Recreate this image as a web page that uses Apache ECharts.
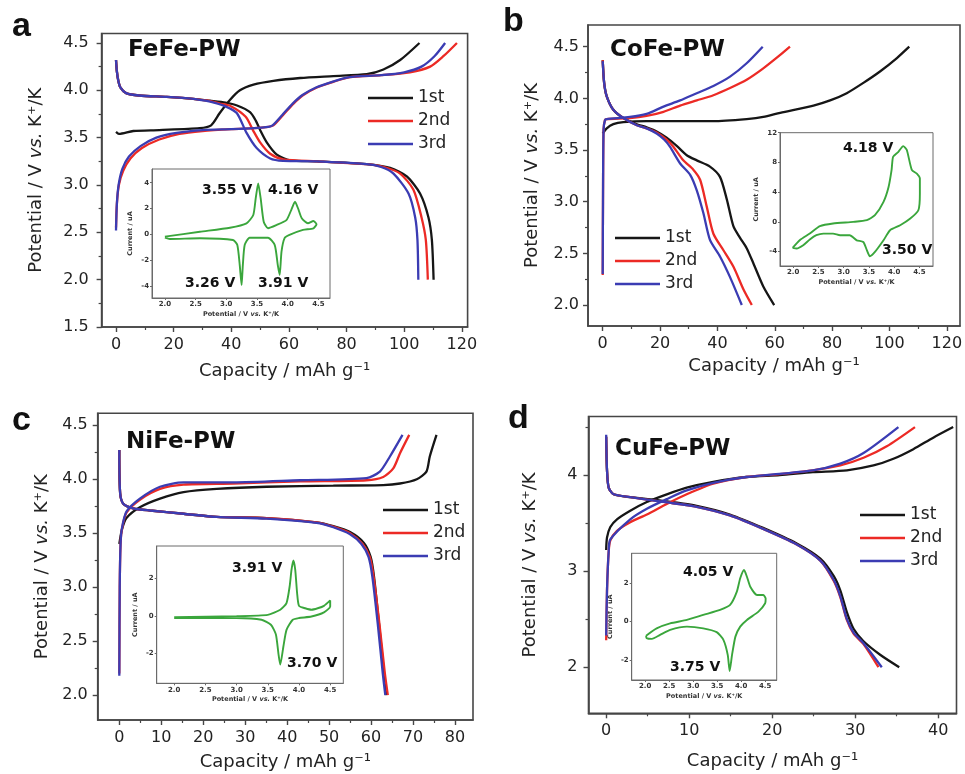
<!DOCTYPE html>
<html>
<head>
<meta charset="utf-8">
<script src="https://cdn.jsdelivr.net/npm/echarts@6/dist/echarts.min.js"></script>
<style>html,body{margin:0;padding:0;background:#fff;}#c{width:965px;height:774px;}</style>
</head>
<body>
<div id="c"></div>
<script>
// ---------------- DATA ----------------
const cycleNames = ['1st', '2nd', '3rd'];
const sampleNames = ['FeFe-PW', 'CoFe-PW', 'NiFe-PW', 'CuFe-PW'];
const panelLetters = ['a', 'b', 'c', 'd'];

// Panel a : FeFe-PW  [capacity mAh/g, potential V]
const aCharge1 = [[0,3.56],[1,3.54],[6,3.57],[15,3.58],[29,3.6],[33,3.63],[36,3.76],[39.6,3.9],[43,4.0],[47.7,4.06],[54.6,4.1],[63.9,4.13],[75.4,4.15],[87,4.17],[92.8,4.22],[98.6,4.32],[105.3,4.5]];
const aCharge2 = [[0,2.55],[0.3,2.8],[1,3.0],[2.5,3.15],[5,3.28],[9,3.39],[15,3.48],[22,3.54],[30,3.57],[40,3.59],[48,3.6],[52,3.61],[54.6,3.63],[58,3.74],[61.6,3.86],[65,3.95],[69.7,4.03],[75.4,4.09],[81.2,4.14],[92,4.16],[102,4.19],[109,4.25],[113.6,4.36],[118.3,4.5]];
const aCharge3 = [[0,2.52],[0.3,2.8],[0.9,3.0],[2.2,3.17],[4.5,3.3],[8.5,3.41],[14,3.5],[21,3.55],[30,3.58],[40,3.59],[48,3.6],[52,3.61],[54.3,3.63],[57.7,3.74],[61.3,3.86],[64.7,3.95],[69.4,4.03],[75,4.09],[81,4.14],[92,4.16],[100,4.19],[106,4.25],[110.5,4.36],[114.2,4.5]];
const aDis1 = [[0,4.32],[0.3,4.2],[0.8,4.1],[1.5,4.03],[3.5,3.97],[8,3.945],[17.6,3.93],[26.8,3.91],[32.6,3.89],[38,3.87],[42,3.84],[46.5,3.77],[48.5,3.68],[50,3.58],[52.3,3.45],[55.8,3.32],[60.4,3.26],[69.7,3.25],[87,3.22],[95.1,3.18],[100.9,3.09],[105.5,2.91],[108.4,2.66],[109.6,2.42],[110.2,2.0]];
const aDis2 = [[0,4.32],[0.3,4.2],[0.8,4.1],[1.5,4.03],[3.5,3.97],[8,3.945],[17.6,3.93],[26.8,3.91],[32,3.89],[36,3.86],[40,3.83],[45,3.72],[47.5,3.58],[50,3.45],[53.5,3.33],[58,3.27],[69.7,3.25],[87,3.22],[93,3.19],[98.6,3.12],[103.2,2.95],[106,2.66],[107.5,2.42],[108.2,2.0]];
const aDis3 = [[0,4.32],[0.3,4.2],[0.8,4.1],[1.5,4.03],[3.5,3.97],[8,3.945],[17.6,3.93],[26.8,3.91],[31,3.89],[34,3.87],[38,3.83],[41.9,3.76],[45.3,3.55],[48.8,3.39],[53.5,3.28],[58,3.255],[69.7,3.25],[87,3.22],[92,3.19],[96.3,3.12],[101.5,2.91],[103.8,2.66],[104.6,2.42],[104.9,2.0]];
// inset a : CV  [potential V, current uA]
const aCV = [[2.0,-0.18],[2.57,0.2],[3.06,0.51],[3.33,0.85],[3.44,1.5],[3.48,2.8],[3.52,3.95],[3.56,2.8],[3.61,0.98],[3.68,0.47],[3.82,0.72],[3.98,1.1],[4.06,1.9],[4.12,2.53],[4.17,2.0],[4.23,1.24],[4.33,0.86],[4.42,1.03],[4.47,0.78],[4.42,0.47],[4.25,0.34],[4.03,-0.05],[3.95,-0.3],[3.9,-1.34],[3.87,-3.15],[3.84,-2.4],[3.79,-0.83],[3.68,-0.26],[3.38,-0.26],[3.3,-0.83],[3.27,-2.38],[3.25,-3.93],[3.22,-2.4],[3.18,-0.83],[3.11,-0.44],[2.57,-0.3],[2.08,-0.36],[2.0,-0.26]];

// Panel b : CoFe-PW
const bCharge1 = [[0,3.66],[1.4,3.71],[3.7,3.75],[7.2,3.77],[15.3,3.78],[38.6,3.78],[50.2,3.8],[56,3.82],[61.9,3.86],[73.5,3.93],[79.3,3.98],[85.1,4.05],[90.9,4.15],[96.7,4.26],[102.6,4.39],[106.9,4.5]];
const bCharge2 = [[0,2.29],[0.1,3.0],[0.3,3.7],[0.8,3.79],[1.4,3.8],[9.5,3.81],[15.3,3.83],[21.2,3.87],[27,3.93],[32.8,3.98],[38.6,4.03],[44.4,4.1],[50.2,4.18],[56,4.29],[61.9,4.42],[65.3,4.5]];
const bCharge3 = [[0,2.3],[0.1,3.0],[0.3,3.7],[0.8,3.79],[1.4,3.8],[9.5,3.82],[15.3,3.85],[21.2,3.92],[27,3.98],[32.8,4.05],[38.6,4.12],[44.4,4.21],[50.2,4.34],[55.8,4.5]];
const bDis1 = [[0,4.37],[0.5,4.15],[1.4,4.02],[3.7,3.89],[7.2,3.81],[11.9,3.75],[15.3,3.72],[18.8,3.68],[22.3,3.62],[25.8,3.54],[29.3,3.45],[32.8,3.4],[37.4,3.34],[40.9,3.24],[43.3,3.02],[45.6,2.76],[47.9,2.65],[50.2,2.55],[52.6,2.4],[56,2.18],[59.8,2.0]];
const bDis2 = [[0,4.37],[0.5,4.15],[1.4,4.02],[3.7,3.89],[7.2,3.81],[11.9,3.74],[15.3,3.71],[18.8,3.67],[22.3,3.6],[24.7,3.53],[28.1,3.4],[31.6,3.31],[34,3.21],[36.3,2.95],[38.6,2.69],[42.1,2.53],[45.6,2.37],[49.1,2.15],[52,2.0]];
const bDis3 = [[0,4.36],[0.5,4.15],[1.4,4.02],[3.7,3.89],[7.2,3.81],[11.9,3.74],[15.3,3.71],[18.8,3.66],[21.5,3.6],[23.5,3.53],[27,3.37],[30.5,3.26],[32.8,3.11],[35.1,2.89],[37.4,2.63],[40.9,2.47],[44.4,2.27],[48.5,2.0]];
const bCV = [[1.99,-3.5],[2.13,-2.47],[2.33,-1.57],[2.53,-0.58],[2.79,-0.22],[3.19,0],[3.46,0.23],[3.62,0.9],[3.79,2.7],[3.89,4.7],[3.95,7.0],[3.98,8.76],[4.08,9.4],[4.18,10.2],[4.25,9.7],[4.35,7.0],[4.45,6.5],[4.51,5.85],[4.51,3.8],[4.48,1.57],[4.32,0.45],[4.12,-0.45],[3.92,-1.12],[3.79,-2.47],[3.62,-4.04],[3.52,-4.62],[3.46,-3.8],[3.39,-2.7],[3.26,-2.47],[3.12,-1.79],[2.93,-1.79],[2.79,-1.57],[2.6,-1.57],[2.46,-1.79],[2.33,-2.37],[2.2,-3.14],[2.07,-3.58],[1.99,-3.5]];

// Panel c : NiFe-PW
const cCharge1 = [[0,3.4],[0.6,3.53],[1.7,3.64],[4.9,3.74],[9.7,3.82],[15.3,3.88],[23.2,3.91],[35.1,3.93],[51,3.94],[62.9,3.945],[66.9,3.96],[70.9,4.0],[73.2,4.07],[74,4.21],[75.6,4.41]];
const cCharge2 = [[0,2.2],[0.1,3.0],[0.3,3.4],[0.6,3.53],[1.7,3.69],[4.9,3.81],[9.7,3.91],[15.3,3.95],[27.2,3.96],[43.1,3.98],[58.9,3.99],[62.9,4.02],[65.3,4.1],[66.9,4.24],[69.1,4.41]];
const cCharge3 = [[0,2.18],[0.1,3.0],[0.3,3.4],[0.6,3.54],[1.7,3.7],[4.9,3.82],[9.7,3.93],[15.3,3.97],[27.2,3.97],[43.1,3.99],[58.9,4.01],[62.1,4.07],[64.5,4.21],[67.5,4.41]];
const cDis1 = [[0,4.27],[0.2,3.87],[1,3.77],[3.3,3.73],[7.3,3.71],[15.3,3.68],[23.2,3.65],[35.1,3.64],[47,3.6],[51,3.565],[55,3.51],[58.3,3.41],[59.9,3.28],[60.7,3.1],[61.9,2.66],[63.1,2.2],[63.7,2.0]];
const cDis2 = [[0,4.27],[0.2,3.87],[1,3.77],[3.3,3.73],[7.3,3.71],[15.3,3.68],[23.2,3.65],[35.1,3.64],[47,3.6],[51,3.56],[55,3.5],[58,3.4],[59.7,3.28],[60.6,3.1],[62,2.66],[63.3,2.2],[64,2.0]];
const cDis3 = [[0,4.27],[0.2,3.87],[1,3.77],[3.3,3.73],[7.3,3.71],[15.3,3.68],[23.2,3.65],[35.1,3.635],[47,3.595],[51,3.555],[55,3.49],[57.7,3.4],[59.4,3.28],[60.3,3.1],[61.6,2.66],[62.8,2.2],[63.4,2.0]];
const cCV = [[2.0,-0.07],[3.0,-0.02],[3.5,0.05],[3.7,0.32],[3.8,0.68],[3.85,1.56],[3.88,2.45],[3.91,2.95],[3.94,2.45],[3.97,1.2],[4.0,0.53],[4.1,0.4],[4.2,0.32],[4.3,0.4],[4.4,0.53],[4.5,0.82],[4.5,0.5],[4.4,0.18],[4.2,-0.04],[4.0,-0.12],[3.9,-0.21],[3.8,-0.75],[3.75,-1.64],[3.7,-2.6],[3.67,-2.0],[3.63,-1.0],[3.55,-0.48],[3.4,-0.21],[3.0,-0.12],[2.0,-0.12]];

// Panel d : CuFe-PW
const dCharge1 = [[0,3.22],[0.1,3.35],[0.5,3.46],[1.3,3.54],[2.9,3.63],[4.9,3.72],[7.3,3.8],[9.7,3.87],[12.9,3.93],[16.9,3.98],[20.9,4.0],[24.9,4.03],[29,4.05],[32.2,4.1],[34.6,4.17],[37,4.27],[39.4,4.39],[41.8,4.5]];
const dCharge2 = [[0,2.28],[0.1,2.8],[0.3,3.2],[0.5,3.32],[1.3,3.42],[2.9,3.51],[4.9,3.59],[7.3,3.7],[9.7,3.8],[12.9,3.91],[16.9,3.98],[20.9,4.01],[24.9,4.05],[28.2,4.1],[31,4.18],[33.8,4.3],[37.2,4.5]];
const dCharge3 = [[0,2.33],[0.1,2.8],[0.3,3.2],[0.5,3.33],[2.9,3.54],[4.9,3.65],[7.3,3.75],[9.7,3.84],[12.9,3.92],[16.9,3.98],[24.9,4.05],[28.2,4.12],[31,4.23],[35.2,4.5]];
const dDis1 = [[0,4.4],[0.1,4.05],[0.3,3.87],[0.9,3.8],[2.9,3.77],[6.9,3.73],[10.9,3.68],[14.9,3.59],[18.9,3.45],[22.9,3.29],[25.8,3.13],[27.4,2.95],[28.2,2.8],[29,2.57],[29.8,2.4],[31,2.27],[33,2.13],[35.3,2.0]];
const dDis2 = [[0,4.4],[0.1,4.05],[0.3,3.87],[0.9,3.8],[2.9,3.77],[6.9,3.72],[10.9,3.67],[14.9,3.58],[18.9,3.44],[22.9,3.28],[25.8,3.11],[27.4,2.9],[28.2,2.73],[29,2.49],[29.8,2.35],[31,2.24],[32.8,2.0]];
const dDis3 = [[0,4.42],[0.1,4.05],[0.3,3.87],[0.9,3.8],[2.9,3.77],[6.9,3.72],[10.9,3.67],[14.9,3.58],[18.9,3.44],[22.9,3.28],[25.8,3.11],[27.4,2.91],[28.2,2.74],[29,2.5],[29.8,2.36],[31,2.25],[33.2,2.0]];
const dCV = [[2.02,-0.73],[2.24,-0.35],[2.52,-0.09],[2.87,0.09],[3.21,0.35],[3.56,0.61],[3.77,0.87],[3.91,1.56],[3.98,2.26],[4.06,2.69],[4.12,2.34],[4.19,1.82],[4.33,1.39],[4.46,1.39],[4.51,1.2],[4.5,0.96],[4.36,0.52],[4.12,0.09],[3.98,-0.26],[3.88,-0.78],[3.81,-1.73],[3.76,-2.57],[3.72,-1.73],[3.63,-0.95],[3.49,-0.55],[3.21,-0.35],[2.87,-0.26],[2.52,-0.43],[2.31,-0.69],[2.14,-0.9],[2.03,-0.86],[2.02,-0.73]];

// tick labels
const xTicksA = [0,20,40,60,80,100,120], xMinorA = [10,30,50,70,90,110];
const yTicksA = [1.5,2.0,2.5,3.0,3.5,4.0,4.5], yMinorA = [1.75,2.25,2.75,3.25,3.75,4.25];
const xTicksB = [0,20,40,60,80,100,120], xMinorB = [10,30,50,70,90,110];
const yTicksB = [2.0,2.5,3.0,3.5,4.0,4.5], yMinorB = [2.25,2.75,3.25,3.75,4.25];
const xTicksC = [0,10,20,30,40,50,60,70,80], xMinorC = [5,15,25,35,45,55,65,75];
const yTicksC = [2.0,2.5,3.0,3.5,4.0,4.5], yMinorC = [2.25,2.75,3.25,3.75,4.25];
const xTicksD = [0,10,20,30,40], xMinorD = [5,15,25,35];
const yTicksD = [2,3,4], yMinorD = [2.5,3.5,4.5];
const insetXTicks = [2.0,2.5,3.0,3.5,4.0,4.5];
const insetYTicksA = [-4,-2,0,2,4], insetYTicksB = [-4,0,4,8,12], insetYTicksC = [-2,0,2], insetYTicksD = [-2,0,2];
const peakLabels = [['3.55 V','4.16 V','3.26 V','3.91 V'], ['4.18 V','3.50 V'], ['3.91 V','3.70 V'], ['4.05 V','3.75 V']];

// ---------------- STYLE / LAYOUT ----------------
const F = 'DejaVu Sans';
const COLORS = ['#161616', '#ec2a25', '#3b3cb3'];
const GREEN = '#3aa63c';
const AX = '#464646';
const TXT = '#232323';
const grids = [], xAxes = [], yAxes = [], series = [];
const yName = '{n|Potential / V }{i|vs.}{n| K⁺/K}';
const xName = 'Capacity / mAh g⁻¹';

function addMain(box, xr, yr, xT, xM, yT, yM, dec, lm, xGap, yGap) {
  const gi = grids.length;
  grids.push({left: box[0], top: box[1], width: box[2], height: box[3], show: true,
    borderColor: AX, borderWidth: 1.6, backgroundColor: 'transparent', containLabel: false, outerBoundsMode: 'none'});
  const xi = xAxes.length, yi = yAxes.length;
  const lab = {fontSize: 16, fontFamily: F, color: TXT};
  xAxes.push({type: 'value', gridIndex: gi, min: xr[0], max: xr[1], position: 'bottom',
    axisLine: {show: true, onZero: false, lineStyle: {color: AX, width: 1.6}},
    axisTick: {show: true, inside: false, length: 5, customValues: xT, lineStyle: {color: AX, width: 1.4}},
    axisLabel: Object.assign({show: true, customValues: xT, margin: 10, formatter: v => String(v)}, lab),
    splitLine: {show: false}, minorTick: {show: false},
    name: xName, nameLocation: 'middle', nameGap: xGap,
    nameTextStyle: {fontSize: 18, fontFamily: F, color: TXT}});
  xAxes.push({type: 'value', gridIndex: gi, min: xr[0], max: xr[1], position: 'bottom',
    axisLine: {show: false, onZero: false},
    axisTick: {show: true, inside: false, length: 3, customValues: xM, lineStyle: {color: AX, width: 1.2}},
    axisLabel: {show: false}, splitLine: {show: false}});
  yAxes.push({type: 'value', gridIndex: gi, min: yr[0], max: yr[1], position: 'left',
    axisLine: {show: true, onZero: false, lineStyle: {color: AX, width: 1.6}},
    axisTick: {show: true, inside: false, length: 5, customValues: yT, lineStyle: {color: AX, width: 1.4}},
    axisLabel: Object.assign({show: true, customValues: yT, margin: lm, formatter: v => v.toFixed(dec)}, lab),
    splitLine: {show: false},
    name: yName, nameLocation: 'middle', nameGap: yGap,
    nameTextStyle: {fontSize: 18, fontFamily: F, color: TXT,
      rich: {n: {fontSize: 18, fontFamily: F, color: TXT}, i: {fontSize: 18, fontFamily: F, color: TXT, fontStyle: 'italic'}}}});
  yAxes.push({type: 'value', gridIndex: gi, min: yr[0], max: yr[1], position: 'left',
    axisLine: {show: false, onZero: false},
    axisTick: {show: true, inside: false, length: 3, customValues: yM, lineStyle: {color: AX, width: 1.2}},
    axisLabel: {show: false}, splitLine: {show: false}});
  return {xi, yi};
}

function addInset(box, xr, yr, yT, xGap, yGap) {
  const gi = grids.length;
  grids.push({left: box[0], top: box[1], width: box[2], height: box[3], show: true,
    borderColor: '#6a6a6a', borderWidth: 1, backgroundColor: 'transparent', containLabel: false, outerBoundsMode: 'none'});
  const xi = xAxes.length, yi = yAxes.length;
  const lab = {fontSize: 7, fontWeight: 'bold', fontFamily: F, color: '#333'};
  const nm = {fontSize: 6.5, fontWeight: 'bold', fontFamily: F, color: '#333'};
  xAxes.push({type: 'value', gridIndex: gi, min: xr[0], max: xr[1], position: 'bottom',
    axisLine: {show: true, onZero: false, lineStyle: {color: '#6a6a6a', width: 1}},
    axisTick: {show: true, inside: false, length: 2, customValues: insetXTicks, lineStyle: {color: '#6a6a6a'}},
    axisLabel: Object.assign({show: true, customValues: insetXTicks, margin: 3, formatter: v => v.toFixed(1)}, lab),
    splitLine: {show: false},
    name: '{n|Potential / V }{i|vs.}{n| K⁺/K}', nameLocation: 'middle', nameGap: xGap,
    nameTextStyle: Object.assign({rich: {n: nm, i: Object.assign({fontStyle: 'italic'}, nm)}}, nm)});
  yAxes.push({type: 'value', gridIndex: gi, min: yr[0], max: yr[1], position: 'left',
    axisLine: {show: true, onZero: false, lineStyle: {color: '#6a6a6a', width: 1}},
    axisTick: {show: true, inside: false, length: 2, customValues: yT, lineStyle: {color: '#6a6a6a'}},
    axisLabel: Object.assign({show: true, customValues: yT, margin: 3, formatter: v => String(v)}, lab),
    splitLine: {show: false},
    name: 'Current / uA', nameLocation: 'middle', nameGap: yGap, nameTextStyle: nm});
  return {xi, yi};
}

function addLine(name, data, ax, color, w, z, sm) {
  series.push({type: 'line', name: name, data: data, xAxisIndex: ax.xi, yAxisIndex: ax.yi,
    showSymbol: false, symbol: 'none', smooth: sm, color: color,
    lineStyle: {color: color, width: w}, itemStyle: {color: color}, z: z, silent: true, animation: false});
}

// panel a
const pa = addMain([101.6, 33.5, 366, 293.5], [-5, 122], [1.5, 4.6], xTicksA, xMinorA, yTicksA, yMinorA, 1, 13, 35, 56);
const ia = addInset([152, 169, 178, 129], [1.79, 4.69], [-4.93, 5.06], insetYTicksA, 13, 18);
// panel b
const pb = addMain([588, 25, 372, 301], [-5.13, 124.6], [1.797, 4.71], xTicksB, xMinorB, yTicksB, yMinorB, 1, 9, 31, 47);
const ib = addInset([780, 132.7, 153, 133.3], [1.74, 4.77], [-5.93, 12], insetYTicksB, 13, 20);
// panel c
const pc = addMain([97.7, 413.3, 375.3, 306.7], [-5.15, 84.3], [1.77, 4.61], xTicksC, xMinorC, yTicksC, yMinorC, 1, 10, 33, 46);
const ic = addInset([156.7, 546, 186.6, 137.3], [1.72, 4.71], [-3.6, 3.72], insetYTicksC, 13, 18);
// panel d
const pd = addMain([588.5, 416.5, 368, 296.8], [-2.13, 42.2], [1.52, 4.61], xTicksD, xMinorD, yTicksD, yMinorD, 0, 11, 39, 49);
const id = addInset([631.7, 553.3, 145, 126.7], [1.72, 4.74], [-3.04, 3.56], insetYTicksD, 13, 18);

const panels = [
  [pa, [aCharge1, aCharge2, aCharge3], [aDis1, aDis2, aDis3], ia, aCV],
  [pb, [bCharge1, bCharge2, bCharge3], [bDis1, bDis2, bDis3], ib, bCV],
  [pc, [cCharge1, cCharge2, cCharge3], [cDis1, cDis2, cDis3], ic, cCV],
  [pd, [dCharge1, dCharge2, dCharge3], [dDis1, dDis2, dDis3], id, dCV]
];
panels.forEach(p => {
  for (let k = 0; k < 3; k++) {
    addLine(cycleNames[k], p[1][k], p[0], COLORS[k], 2.3, 10 + k, 0.25);
    addLine(cycleNames[k], p[2][k], p[0], COLORS[k], 2.3, 10 + k, 0.25);
  }
  addLine('CV', p[4], p[3], GREEN, 1.9, 20, 0.2);
});

function legendAt(left, top) {
  return {left: left, top: top, padding: 0, orient: 'vertical', icon: 'rect', itemWidth: 45, itemHeight: 2.5, itemGap: 6,
    itemStyle: {borderWidth: 0}, selectedMode: false, data: cycleNames.slice(),
    textStyle: {fontSize: 17, fontFamily: F, color: TXT}};
}

function txt(x, y, s, font, align) {
  return {type: 'text', x: x, y: y, silent: true, z: 100,
    style: {text: s, fill: '#111', font: font, textAlign: align || 'left', textVerticalAlign: 'middle', align: align || 'left', verticalAlign: 'middle'}};
}
const LF = 'bold 34px "Liberation Sans"';
const SF = 'bold 23px "DejaVu Sans"';
const PF = 'bold 14px "DejaVu Sans"';
const graphics = [
  txt(12, 27, panelLetters[0], LF), txt(503, 22, panelLetters[1], LF), txt(12, 421, panelLetters[2], LF), txt(508, 419, panelLetters[3], LF),
  txt(128, 50, sampleNames[0], SF), txt(610, 50, sampleNames[1], SF), txt(126, 442, sampleNames[2], SF), txt(615, 449, sampleNames[3], SF),
  txt(202, 190, peakLabels[0][0], PF), txt(268, 190, peakLabels[0][1], PF), txt(185, 283, peakLabels[0][2], PF), txt(258, 283, peakLabels[0][3], PF),
  txt(843, 148, peakLabels[1][0], PF), txt(882, 250, peakLabels[1][1], PF),
  txt(232, 568, peakLabels[2][0], PF), txt(287, 663, peakLabels[2][1], PF),
  txt(683, 572, peakLabels[3][0], PF), txt(670, 667, peakLabels[3][1], PF)
];

const chart = echarts.init(document.getElementById('c'), null, {renderer: 'canvas'});
chart.setOption({
  backgroundColor: '#ffffff',
  animation: false,
  grid: grids,
  xAxis: xAxes,
  yAxis: yAxes,
  legend: [legendAt(368, 89.5), legendAt(615, 229.5), legendAt(383, 501.5), legendAt(860, 506.5)],
  graphic: graphics,
  series: series
});
</script>
</body>
</html>
